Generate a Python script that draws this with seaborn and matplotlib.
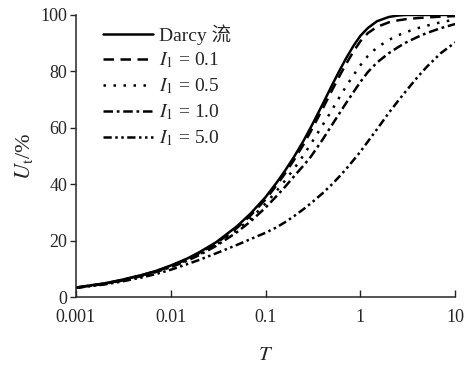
import numpy as np
import pandas as pd
import seaborn as sns
import matplotlib
matplotlib.use("Agg")
import matplotlib.pyplot as plt
from matplotlib.ticker import FixedLocator, NullLocator, FixedFormatter

# -------------------------------
#  Datos
# -------------------------------
T = [0.001, 0.0015, 0.002, 0.003, 0.005, 0.007, 0.01, 0.015, 0.02, 0.03,
     0.05, 0.07, 0.1, 0.13, 0.16, 0.2, 0.25, 0.3, 0.4, 0.5, 0.6, 0.7, 0.85,
     1.0, 1.2, 1.5, 2.0, 2.5, 3.0, 4.0, 5.0, 7.0, 10.0]

U_darcy = [3.5, 4.4, 5.0, 6.2, 8.0, 9.4, 11.3, 13.8, 16.0, 19.5,
           25.2, 29.8, 35.5, 40.5, 44.8, 49.8, 55.3, 60.2, 68.4, 75.0, 80.2, 84.4, 89.2,
           92.6, 95.4, 97.8, 99.3, 99.8, 100.0, 100.0, 100.0, 100.0, 100.0]
U_i01 = [3.5, 4.3, 4.9, 6.1, 7.9, 9.3, 11.1, 13.6, 15.7, 19.1,
         24.6, 29.1, 34.7, 39.6, 43.8, 48.7, 54.0, 58.8, 66.8, 73.2, 78.3, 82.4, 87.2,
         90.7, 93.6, 95.8, 97.4, 98.1, 98.5, 98.9, 99.1, 99.4, 99.6]
U_i05 = [3.5, 4.3, 4.9, 6.0, 7.8, 9.2, 10.9, 13.3, 15.3, 18.6,
         23.8, 28.0, 33.2, 37.6, 41.3, 45.6, 50.2, 54.3, 61.0, 66.3, 70.8, 74.5, 78.8,
         82.2, 85.5, 88.5, 91.2, 92.8, 93.9, 95.3, 96.2, 97.4, 98.4]
U_i10 = [3.4, 4.2, 4.8, 5.9, 7.6, 9.0, 10.7, 13.0, 15.0, 18.2,
         23.1, 27.0, 31.8, 35.8, 39.1, 42.9, 46.6, 49.8, 55.9, 61.0, 65.1, 68.6, 72.8,
         76.3, 79.8, 83.2, 86.5, 88.6, 90.2, 92.2, 93.6, 95.3, 96.8]
U_i50 = [3.4, 4.1, 4.6, 5.6, 7.1, 8.3, 9.8, 11.8, 13.3, 15.6,
         18.6, 20.7, 22.9, 24.8, 26.6, 28.8, 31.2, 33.3, 36.9, 40.0, 42.8, 45.3, 48.7,
         51.6, 55.2, 59.6, 65.4, 69.6, 72.9, 78.0, 81.6, 86.4, 90.3]

labels = ["Darcy 流", "$I_1$ = 0.1", "$I_1$ = 0.5", "$I_1$ = 1.0", "$I_1$ = 5.0"]
x_ticks = [0.001, 0.01, 0.1, 1, 10]
x_tick_labels = ["0.001", "0.01", "0.1", "1", "10"]
y_ticks = [0, 20, 40, 60, 80, 100]

# -------------------------------
#  Estilo
# -------------------------------
sns.set_style("ticks")
plt.rcParams["font.family"] = ["Liberation Serif", "Noto Sans CJK SC"]
plt.rcParams["mathtext.fontset"] = "stix"

fig = plt.figure(figsize=(4.65, 3.65), dpi=100)
ax = fig.add_axes([0.163, 0.185, 0.816, 0.774])

series = [U_darcy, U_i01, U_i05, U_i10, U_i50]
estilos = ["-", (0, (4.2, 2.6)), (0, (1, 3.0)), (0, (3.8, 1.5, 1.1, 1.5)),
           (0, (3.3, 1.4, 1, 1.4, 1, 1.4))]

for vals, lab, ls in zip(series, labels, estilos):
    sns.lineplot(x=T, y=vals, ax=ax, color="black", linewidth=1.8,
                 linestyle=ls, label=lab)

ax.set_xscale("log")
ax.set_xlim(0.001, 10)
ax.set_ylim(0, 100)
ax.xaxis.set_major_locator(FixedLocator(x_ticks))
ax.xaxis.set_major_formatter(FixedFormatter(x_tick_labels))
ax.xaxis.set_minor_locator(NullLocator())
ax.set_yticks(y_ticks)

ax.tick_params(axis="x", direction="in", length=5, width=1, labelsize=13, pad=8)
ax.tick_params(axis="y", direction="out", length=4, width=1, labelsize=13, pad=2)
for s in ["left", "bottom"]:
    ax.spines[s].set_linewidth(1.1)
sns.despine(ax=ax)

ax.set_xlabel("$T$", fontsize=15, labelpad=15)
ax.set_ylabel("$U_{\\mathrm{t}}$/%", fontsize=16, labelpad=4)

ax.legend(loc="upper left", bbox_to_anchor=(0.025, 1.03), frameon=False,
          fontsize=14, handlelength=2.6, handletextpad=0.3, labelspacing=0.32)

fig.savefig("out.png", dpi=100)
